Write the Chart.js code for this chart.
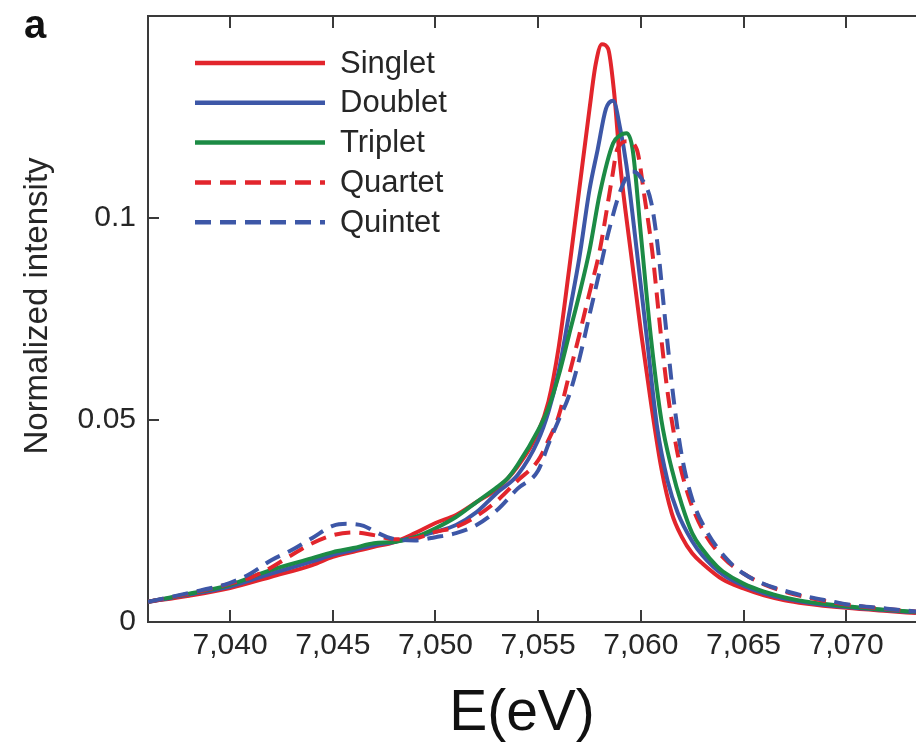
<!DOCTYPE html>
<html>
<head>
<meta charset="utf-8">
<style>
  html, body { margin: 0; padding: 0; background: #ffffff; }
  #wrap { width: 916px; height: 748px; position: relative; }
</style>
<script src="https://cdn.jsdelivr.net/npm/chart.js@4/dist/chart.umd.min.js"></script>
</head>
<body>
<div id="wrap"><canvas id="c" width="916" height="748"></canvas></div>
<script>
// ---------------- data ----------------
const seriesNames = ["Singlet", "Doublet", "Triplet", "Quartet", "Quintet"];

const singletE = [7036, 7038, 7040, 7042, 7044, 7045, 7046, 7047, 7048, 7049, 7050, 7051, 7052, 7053, 7054, 7055, 7055.5, 7056, 7056.5, 7057, 7057.5, 7057.8, 7058.1, 7058.4, 7058.7, 7059, 7059.5, 7060, 7060.5, 7061, 7061.5, 7062, 7062.5, 7063, 7064, 7065, 7066, 7067, 7068, 7070, 7072, 7073.4];
const singletI = [0.0050, 0.0065, 0.0084, 0.0112, 0.0141, 0.0161, 0.0174, 0.0186, 0.0198, 0.0220, 0.0245, 0.0265, 0.0297, 0.0330, 0.0385, 0.0470, 0.0545, 0.0680, 0.0870, 0.1070, 0.1270, 0.1380, 0.1430, 0.1420, 0.1310, 0.1130, 0.0920, 0.0720, 0.0540, 0.0380, 0.0270, 0.0210, 0.0170, 0.0145, 0.0105, 0.0083, 0.0066, 0.0054, 0.0046, 0.0035, 0.0027, 0.0022];

const doubletE = [7036, 7038, 7040, 7042, 7044, 7045, 7046, 7047, 7048, 7049, 7050, 7051, 7052, 7053, 7054, 7055, 7055.5, 7056, 7056.5, 7057, 7057.5, 7057.9, 7058.3, 7058.65, 7059, 7059.3, 7059.8, 7060.3, 7060.8, 7061.3, 7061.8, 7062.5, 7063, 7064, 7065, 7066, 7067, 7068, 7070, 7072, 7073.4];
const doubletI = [0.0050, 0.0068, 0.0088, 0.0120, 0.0150, 0.0166, 0.0178, 0.0190, 0.0198, 0.0210, 0.0223, 0.0240, 0.0272, 0.0320, 0.0364, 0.0450, 0.0520, 0.0620, 0.0760, 0.0900, 0.1070, 0.1170, 0.1270, 0.1290, 0.1220, 0.1130, 0.0920, 0.0700, 0.0480, 0.0350, 0.0270, 0.0200, 0.0165, 0.0117, 0.0090, 0.0071, 0.0058, 0.0049, 0.0037, 0.0029, 0.0024];

const tripletE = [7036, 7038, 7040, 7042, 7044, 7045, 7046, 7047, 7048, 7049, 7050, 7051, 7052, 7053, 7053.5, 7054, 7055, 7055.5, 7056, 7056.5, 7057, 7057.5, 7058, 7058.65, 7059, 7059.3, 7059.6, 7060, 7060.5, 7061, 7061.5, 7062, 7062.5, 7063, 7063.7, 7064, 7065, 7066, 7067, 7068, 7070, 7072, 7073.4];
const tripletI = [0.0050, 0.0070, 0.0092, 0.0129, 0.0158, 0.0173, 0.0183, 0.0195, 0.0198, 0.0210, 0.0232, 0.0260, 0.0297, 0.0334, 0.0355, 0.0389, 0.0475, 0.0530, 0.0610, 0.0710, 0.0810, 0.0920, 0.1060, 0.1185, 0.1205, 0.1210, 0.1170, 0.0960, 0.0700, 0.0500, 0.0380, 0.0290, 0.0220, 0.0180, 0.0138, 0.0125, 0.0095, 0.0075, 0.0061, 0.0051, 0.0039, 0.0030, 0.0025];

const quartetE = [7036, 7038, 7040, 7041, 7042, 7043, 7044, 7045, 7046, 7047, 7048, 7049, 7050, 7051, 7052, 7053, 7054, 7055, 7055.5, 7056, 7056.5, 7057, 7057.5, 7058, 7058.6, 7058.85, 7059.35, 7059.8, 7060.2, 7060.55, 7061, 7061.3, 7061.6, 7061.9, 7062.4, 7063.1, 7064, 7065, 7066, 7067, 7068, 7069.4, 7070, 7072, 7073.4];
const quartetI = [0.0050, 0.0070, 0.0095, 0.0110, 0.0135, 0.0166, 0.0195, 0.0215, 0.0222, 0.0215, 0.0205, 0.0207, 0.0223, 0.0235, 0.0262, 0.0300, 0.0350, 0.0400, 0.0450, 0.0510, 0.0610, 0.0710, 0.0815, 0.0920, 0.1100, 0.1170, 0.1190, 0.1170, 0.1045, 0.0920, 0.0700, 0.0570, 0.0470, 0.0390, 0.0300, 0.0220, 0.0160, 0.0120, 0.0093, 0.0075, 0.0062, 0.0048, 0.0043, 0.0032, 0.0026];

const quintetE = [7036, 7038, 7040, 7041, 7042, 7043, 7044, 7045, 7045.7, 7046.5, 7047, 7048, 7049, 7050, 7051, 7052, 7053, 7054, 7055, 7055.5, 7056, 7056.5, 7057, 7057.5, 7058, 7058.4, 7059.1, 7059.6, 7060, 7060.5, 7060.8, 7061.2, 7061.6, 7062, 7062.5, 7063.2, 7064.2, 7065, 7066, 7067.3, 7068, 7069.4, 7070, 7072, 7073.4];
const quintetI = [0.0050, 0.0072, 0.0097, 0.0120, 0.0153, 0.0178, 0.0208, 0.0238, 0.0243, 0.0238, 0.0225, 0.0205, 0.0202, 0.0210, 0.0220, 0.0240, 0.0277, 0.0330, 0.0375, 0.0440, 0.0500, 0.0560, 0.0650, 0.0760, 0.0870, 0.0960, 0.1080, 0.1115, 0.1100, 0.1040, 0.0940, 0.0740, 0.0550, 0.0410, 0.0305, 0.0225, 0.0155, 0.0120, 0.0094, 0.0073, 0.0064, 0.0050, 0.0044, 0.0033, 0.0026];

const xTickValues = [7040, 7045, 7050, 7055, 7060, 7065, 7070];
const xTickLabels = ["7,040", "7,045", "7,050", "7,055", "7,060", "7,065", "7,070"];
const yTickValues = [0, 0.05, 0.1];
const yTickLabels = ["0", "0.05", "0.1"];

const xTitle = "E(eV)";
const yTitle = "Normalized intensity";
const panelLabel = "a";

// ---------------- styling ----------------
const RED = "#e2252c";
const BLUE = "#3d57a7";
const GREEN = "#1c8b45";
const AXIS = "#3a3a3a";
const TEXT = "#262626";
const FONT = "'Liberation Sans', Arial, Helvetica, sans-serif";

function pts(xs, ys) { return xs.map((x, i) => ({ x: x, y: ys[i] })); }

const seriesData = [
  pts(singletE, singletI),
  pts(doubletE, doubletI),
  pts(tripletE, tripletI),
  pts(quartetE, quartetI),
  pts(quintetE, quintetI)
];
const seriesColors = [RED, BLUE, GREEN, RED, BLUE];
const seriesDash = [[], [], [], [16, 9], [16, 9]];

const datasets = seriesNames.map((name, i) => ({
  label: name,
  data: seriesData[i],
  borderColor: seriesColors[i],
  backgroundColor: seriesColors[i],
  borderWidth: 4,
  borderDash: seriesDash[i],
  pointRadius: 0,
  fill: false,
  cubicInterpolationMode: "monotone",
  order: 5 - i
}));

// inward tick marks, top frame line, inside legend, axis titles, panel label
const decorPlugin = {
  id: "decor",
  afterDraw(chart) {
    const ctx = chart.ctx;
    const area = chart.chartArea;
    const xs = chart.scales.x;
    const ys = chart.scales.y;
    ctx.save();
    ctx.strokeStyle = AXIS;
    ctx.lineWidth = 2;
    // top frame line
    ctx.beginPath();
    ctx.moveTo(area.left - 1, area.top);
    ctx.lineTo(area.right, area.top);
    ctx.stroke();
    // x ticks (bottom, pointing up; top, pointing down)
    xs.ticks.forEach(t => {
      const px = Math.round(xs.getPixelForValue(t.value));
      ctx.beginPath();
      ctx.moveTo(px, area.bottom);
      ctx.lineTo(px, area.bottom - 12);
      ctx.moveTo(px, area.top);
      ctx.lineTo(px, area.top + 12);
      ctx.stroke();
    });
    // y ticks (pointing right)
    ys.ticks.forEach(t => {
      if (t.value === 0) return;
      const py = Math.round(ys.getPixelForValue(t.value));
      ctx.beginPath();
      ctx.moveTo(area.left, py);
      ctx.lineTo(area.left + 11, py);
      ctx.stroke();
    });
    // legend inside the plot
    const lx0 = area.left + 47, lx1 = area.left + 177, tx = area.left + 192;
    chart.data.datasets.forEach((ds, i) => {
      const y = area.top + 47 + i * 39.8;
      ctx.strokeStyle = ds.borderColor;
      ctx.lineWidth = 4.5;
      ctx.setLineDash(ds.borderDash || []);
      ctx.beginPath();
      ctx.moveTo(lx0, y);
      ctx.lineTo(lx1, y);
      ctx.stroke();
      ctx.setLineDash([]);
      ctx.fillStyle = TEXT;
      ctx.font = "31px " + FONT;
      ctx.textAlign = "left";
      ctx.textBaseline = "middle";
      ctx.fillText(ds.label, tx, y + 1);
    });
    // axis titles
    ctx.fillStyle = "#111";
    ctx.font = "57px " + FONT;
    ctx.textAlign = "center";
    ctx.textBaseline = "middle";
    ctx.fillText(xTitle, area.left + 374, 714);
    ctx.save();
    ctx.translate(38, area.top + 290);
    ctx.rotate(-Math.PI / 2);
    ctx.fillStyle = TEXT;
    ctx.font = "33px " + FONT;
    ctx.textAlign = "center";
    ctx.textBaseline = "middle";
    ctx.fillText(yTitle, 0, 0);
    ctx.restore();
    // panel label
    ctx.fillStyle = "#111";
    ctx.font = "bold 40px " + FONT;
    ctx.textAlign = "left";
    ctx.textBaseline = "alphabetic";
    ctx.fillText(panelLabel, 24, 38);
    ctx.restore();
  }
};

const chart = new Chart(document.getElementById("c"), {
  type: "line",
  data: { datasets: datasets },
  options: {
    responsive: false,
    animation: false,
    devicePixelRatio: 1,
    layout: { padding: { top: 16, right: 0, bottom: 0, left: 0 } },
    plugins: { legend: { display: false }, tooltip: { enabled: false } },
    scales: {
      x: {
        type: "linear",
        min: 7036,
        max: 7073.4,
        grid: { display: false, drawTicks: false },
        border: { display: true, color: AXIS, width: 2 },
        afterBuildTicks: (s) => { s.ticks = xTickValues.map(v => ({ value: v })); },
        afterFit: (s) => { s.height = 126; s.paddingLeft = 0; s.paddingRight = 0; },
        ticks: {
          autoSkip: false,
          maxRotation: 0,
          padding: 6,
          color: TEXT,
          font: { family: FONT, size: 30 },
          callback: (v) => { const k = xTickValues.indexOf(v); return k >= 0 ? xTickLabels[k] : ""; }
        },
        title: { display: false, text: xTitle }
      },
      y: {
        type: "linear",
        min: 0,
        max: 0.15,
        grid: { display: false, drawTicks: false },
        border: { display: true, color: AXIS, width: 2 },
        afterBuildTicks: (s) => { s.ticks = yTickValues.map(v => ({ value: v })); },
        afterFit: (s) => { s.width = 148; s.paddingTop = 0; s.paddingBottom = 0; },
        ticks: {
          autoSkip: false,
          padding: 12,
          color: TEXT,
          font: { family: FONT, size: 30 },
          callback: (v) => { const k = yTickValues.indexOf(v); return k >= 0 ? yTickLabels[k] : ""; }
        },
        title: { display: false, text: yTitle }
      }
    }
  },
  plugins: [decorPlugin]
});
</script>
</body>
</html>
